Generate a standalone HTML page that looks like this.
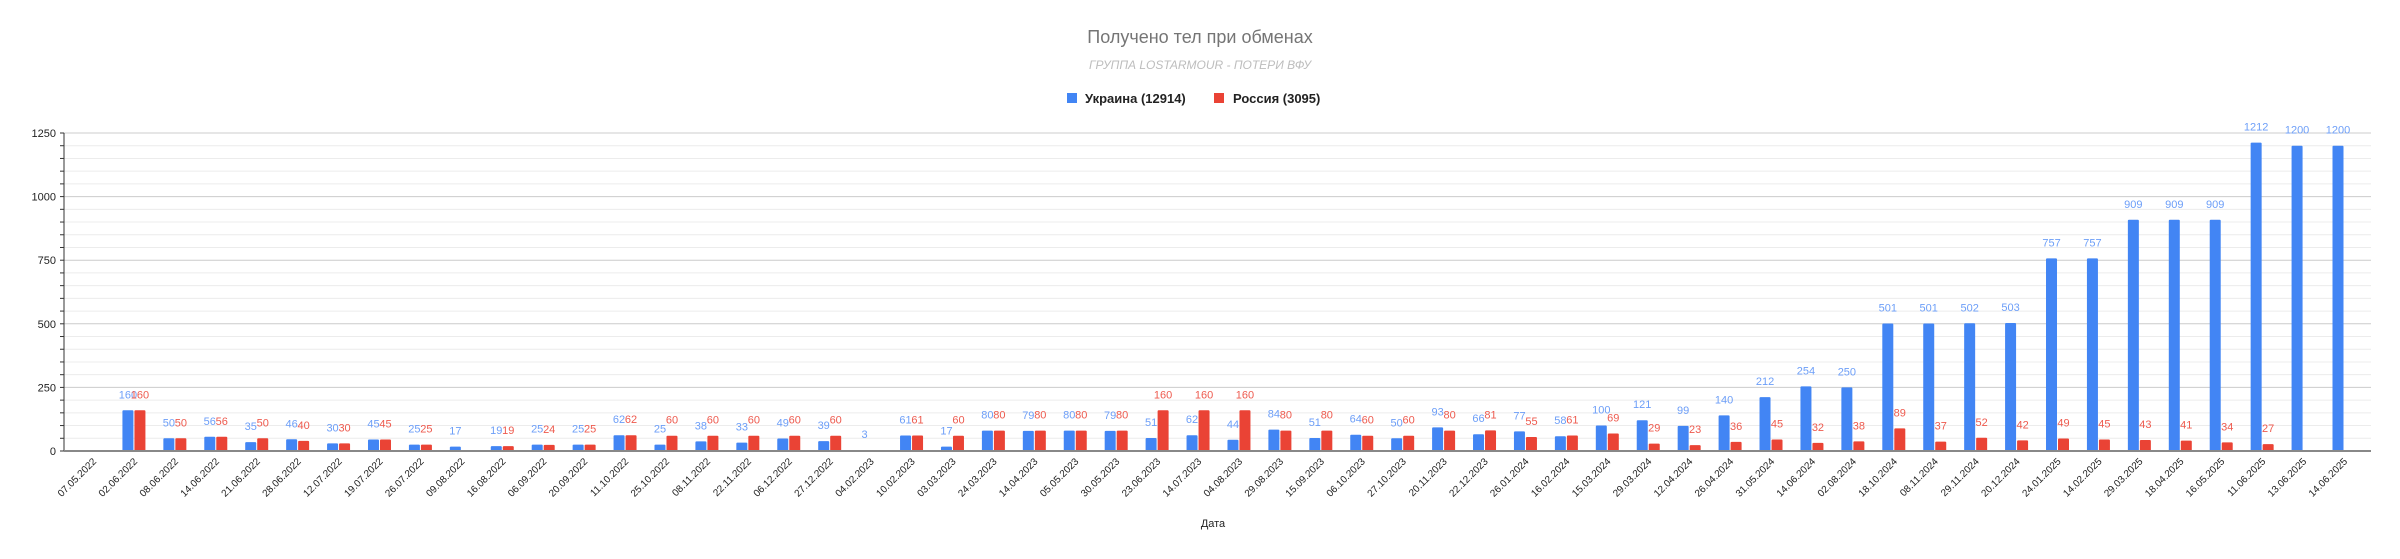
<!DOCTYPE html>
<html><head><meta charset="utf-8">
<style>
html,body{margin:0;padding:0;background:#fff;width:2400px;height:559px;overflow:hidden}
svg{display:block;font-family:"Liberation Sans",sans-serif}
</style></head>
<body>
<svg id="chart" width="2400" height="559" viewBox="0 0 2400 559">
  <text x="1200" y="43" text-anchor="middle" font-size="18" fill="#757575">Получено тел при обменах</text>
  <text x="1200" y="69" text-anchor="middle" font-size="12" font-style="italic" fill="#bdbdbd">ГРУППА LOSTARMOUR - ПОТЕРИ ВФУ</text>
  <g>
    <g>
      <rect x="1067" y="93" width="10" height="10" fill="#4285f4"></rect>
      <text x="1085" y="103" font-size="13" font-weight="bold" fill="#222">Украина (12914)</text>
    </g>
    <g>
      <rect x="1214" y="93" width="10" height="10" fill="#ea4335"></rect>
      <text x="1233" y="103" font-size="13" font-weight="bold" fill="#222">Россия (3095)</text>
    </g>
  </g>
  <g id="grid"></g>
  <g id="yaxis"></g>
  <g id="bars"></g>
  <g id="xaxis"></g>
  <text x="1213" y="527" text-anchor="middle" font-size="11" fill="#222">Дата</text>
</svg>
<script>
const categories = ["07.05.2022","02.06.2022","08.06.2022","14.06.2022","21.06.2022","28.06.2022","12.07.2022","19.07.2022","26.07.2022","09.08.2022","16.08.2022","06.09.2022","20.09.2022","11.10.2022","25.10.2022","08.11.2022","22.11.2022","06.12.2022","27.12.2022","04.02.2023","10.02.2023","03.03.2023","24.03.2023","14.04.2023","05.05.2023","30.05.2023","23.06.2023","14.07.2023","04.08.2023","29.08.2023","15.09.2023","06.10.2023","27.10.2023","20.11.2023","22.12.2023","26.01.2024","16.02.2024","15.03.2024","29.03.2024","12.04.2024","26.04.2024","31.05.2024","14.06.2024","02.08.2024","18.10.2024","08.11.2024","29.11.2024","20.12.2024","24.01.2025","14.02.2025","29.03.2025","18.04.2025","16.05.2025","11.06.2025","13.06.2025","14.06.2025"];
const ukraine = [null,160,50,56,35,46,30,45,25,17,19,25,25,62,25,38,33,49,39,3,61,17,80,79,80,79,51,62,44,84,51,64,50,93,66,77,58,100,121,99,140,212,254,250,501,501,502,503,757,757,909,909,909,1212,1200,1200];
const russia = [null,160,50,56,50,40,30,45,25,null,19,24,25,62,60,60,60,60,60,null,61,60,80,80,80,80,160,160,160,80,80,60,60,80,81,55,61,69,29,23,36,45,32,38,89,37,52,42,49,45,43,41,34,27,null,null];
const yTicks = [0,250,500,750,1000,1250];

const NS = "http://www.w3.org/2000/svg";
const plotLeft = 64, plotRight = 2371, yZero = 451, yTop = 133, yMax = 1250;
function y(v){ return yZero - (v / yMax) * (yZero - yTop); }
function xc(i){ return 93 + i * ((2344 - 93) / 55); }
function mk(tag, attrs, parent){ const e = document.createElementNS(NS, tag); for (const k in attrs) e.setAttribute(k, attrs[k]); parent.appendChild(e); return e; }

const grid = document.getElementById('grid');
const yaxis = document.getElementById('yaxis');
for (let v = 0; v <= yMax; v += 50) {
  const major = v % 250 === 0;
  const gl = mk('line', {x1: plotLeft, x2: plotRight, y1: y(v), y2: y(v), stroke: major ? '#cccccc' : '#ececec', 'stroke-width': major ? 1 : 1}, grid);
  
  
  const tk = mk('line', {x1: plotLeft - 4, x2: plotLeft, y1: y(v), y2: y(v), stroke: '#333', 'stroke-width': 1}, yaxis);
  
  
}
yTicks.forEach(v => {
  const t = mk('text', {x: plotLeft - 8, y: y(v) + 4, 'text-anchor': 'end', 'font-size': 11, fill: '#222'}, yaxis);
  t.textContent = v;
  
  
});
const ax = mk('line', {x1: plotLeft, x2: plotLeft, y1: yTop, y2: yZero, stroke: '#333', 'stroke-width': 1}, yaxis);



const bars = document.getElementById('bars');
const bw = 11;
categories.forEach((c, i) => {
  const cx = xc(i);
  [[ukraine[i], cx - bw - 0.5, '#4285f4', '#6c9ef8', 'bar-ukraine', 'value-label-ukraine'],
   [russia[i], cx + 0.5, '#ea4335', '#ee5a4e', 'bar-russia', 'value-label-russia']].forEach(s => {
    const v = s[0];
    if (v === null) return;
    const top = y(v);
    const r = mk('rect', {x: s[1], y: top, width: bw, height: Math.max(yZero - top, 1), fill: s[2], rx: 1}, bars);
    
    
    const t = mk('text', {x: s[1] + bw / 2, y: top - 12, 'text-anchor': 'middle', 'font-size': 11, fill: s[3]}, bars);
    t.textContent = v;
    
    
  });
});
const base = mk('line', {x1: plotLeft, x2: plotRight, y1: yZero, y2: yZero, stroke: '#888', 'stroke-width': 2}, bars);



const xaxis = document.getElementById('xaxis');
categories.forEach((c, i) => {
  const x0 = xc(i) + 4, y0 = 462;
  const t = mk('text', {x: x0, y: y0, 'text-anchor': 'end', 'font-size': 10, fill: '#222', transform: `rotate(-45 ${x0} ${y0})`}, xaxis);
  t.textContent = c;
  
  
});
</script>
</body></html>
